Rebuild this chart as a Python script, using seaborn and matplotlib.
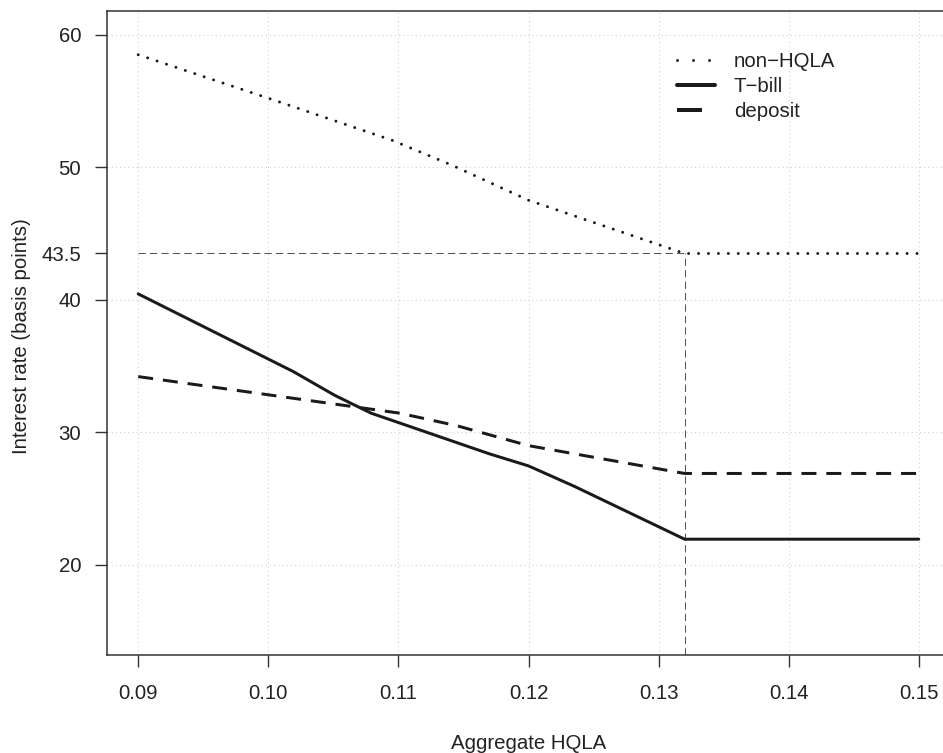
import matplotlib
matplotlib.use("Agg")
import matplotlib.pyplot as plt
from matplotlib.lines import Line2D
import numpy as np
import pandas as pd
import seaborn as sns

# Aggregate HQLA (x) and interest rates in basis points for each asset
hqla_nonhqla = [0.090, 0.100, 0.1095, 0.1141, 0.120, 0.132, 0.150]
rate_nonhqla = [58.5, 55.22, 52.05, 50.17, 47.52, 43.5, 43.5]

hqla_tbill = [0.090, 0.1019, 0.1051, 0.1079, 0.1170, 0.1200, 0.1235, 0.132, 0.150]
rate_tbill = [40.45, 34.6, 32.8, 31.45, 28.38, 27.47, 25.94, 21.94, 21.94]

hqla_deposit = [0.090, 0.1101, 0.1145, 0.120, 0.132, 0.150]
rate_deposit = [34.21, 31.45, 30.5, 29.0, 26.9, 26.9]

series_labels = ["non\u2212HQLA", "T\u2212bill", "deposit"]

# Threshold where the non-HQLA rate stops falling
threshold_hqla = 0.132
threshold_rate = 43.5

x_ticks = [0.09, 0.10, 0.11, 0.12, 0.13, 0.14, 0.15]
y_ticks = [20, 30, 40, 43.5, 50, 60]
y_tick_labels = ["20", "30", "40", "43.5", "50", "60"]
y_grid = [20, 30, 40, 50, 60]

x_range = (0.09, 0.15)
y_range = (15, 60)

sns.set_style("white")
plt.rcParams["font.family"] = ["Liberation Sans", "DejaVu Sans"]
FS = 14.7
plt.rcParams["font.size"] = FS

W, H, DPI = 943, 753, 100
fig = plt.figure(figsize=(W / DPI, H / DPI), dpi=DPI)

# plot region in pixels (R-style box, right edge runs past the canvas)
left_px, right_px, top_px, bottom_px = 107, 950, 11, 655
ax = fig.add_axes([left_px / W, 1 - bottom_px / H,
                   (right_px - left_px) / W, (bottom_px - top_px) / H])

# R's default 4% axis expansion
def expand(lo, hi, f=0.04):
    d = (hi - lo) * f
    return lo - d, hi + d

ax.set_xlim(*expand(*x_range))
ax.set_ylim(*expand(*y_range))

ink = "#1a1a1a"
px = 0.72  # points per pixel

# light dotted grid
grid_kw = dict(color="#cfcfcf", lw=0.75, linestyles=[(0, (1, 3))], zorder=0)
ax.vlines(x_ticks, *ax.get_ylim(), **grid_kw)
ax.hlines(y_grid, *ax.get_xlim(), **grid_kw)

def add_series(x, y, lw_px, dashes=None, round_cap=False):
    df = pd.DataFrame({"HQLA": x, "rate": y})
    n_before = len(ax.lines)
    sns.lineplot(data=df, x="HQLA", y="rate", ax=ax, color=ink,
                 lw=lw_px * px, estimator=None, sort=False,
                 dash_capstyle="round" if round_cap else "butt",
                 solid_joinstyle="round", zorder=3)
    line = ax.lines[n_before]
    if dashes is not None:
        line.set_dashes(dashes)
    return line

add_series(hqla_nonhqla, rate_nonhqla, 3.0, dashes=(0.01, 3.3), round_cap=True)
add_series(hqla_tbill, rate_tbill, 3.0)
add_series(hqla_deposit, rate_deposit, 3.0, dashes=(5, 3.3))

# reference lines at the threshold
ref_kw = dict(color="#555555", lw=0.75, zorder=2)
ax.hlines(threshold_rate, x_range[0], threshold_hqla, linestyles=[(0, (7, 4))], **ref_kw)
ax.vlines(threshold_hqla, ax.get_ylim()[0], threshold_rate, linestyles=[(0, (7, 4))], **ref_kw)

# axes, ticks and labels
for s in ax.spines.values():
    s.set_color("#333333")
    s.set_linewidth(1.1)

ax.set_xticks(x_ticks)
ax.set_xticklabels([f"{t:.2f}" for t in x_ticks])
ax.set_yticks(y_ticks)
ax.set_yticklabels(y_tick_labels)
ax.tick_params(axis="both", direction="out", length=8.6, width=1.0,
               color="#333333", labelcolor="#222222", labelsize=FS)
ax.tick_params(axis="y", pad=10, left=True)
ax.tick_params(axis="x", pad=12.5, bottom=True)

ax.set_xlabel("Aggregate HQLA", fontsize=FS, color="#222222")
ax.set_ylabel("Interest rate (basis points)", fontsize=FS, color="#222222")
ax_w = right_px - left_px
ax_h = bottom_px - top_px
ax.xaxis.label.set_verticalalignment("baseline")
ax.xaxis.set_label_coords((528.5 - left_px) / ax_w, (bottom_px - 749) / ax_h)
ax.yaxis.label.set_verticalalignment("center")
ax.yaxis.label.set_horizontalalignment("center")
ax.yaxis.set_label_coords((22 - left_px) / ax_w, (bottom_px - 336) / ax_h)

# legend without frame, top right
handles = [
    Line2D([], [], color=ink, lw=3 * px, dashes=(0.01, 5.33), dash_capstyle="round"),
    Line2D([], [], color=ink, lw=4 * px),
    Line2D([], [], color=ink, lw=4 * px, dashes=(6.25, 3.75)),
]
fs_px = FS / px
ax.legend(handles, series_labels, loc="upper left",
          bbox_to_anchor=(677 / W, 1 - 52 / H), bbox_transform=fig.transFigure,
          frameon=False, fontsize=FS, borderpad=0, borderaxespad=0,
          handlelength=38 / fs_px, handletextpad=19 / fs_px,
          labelspacing=0.3, labelcolor="#222222")

fig.savefig("out.png", dpi=DPI)
